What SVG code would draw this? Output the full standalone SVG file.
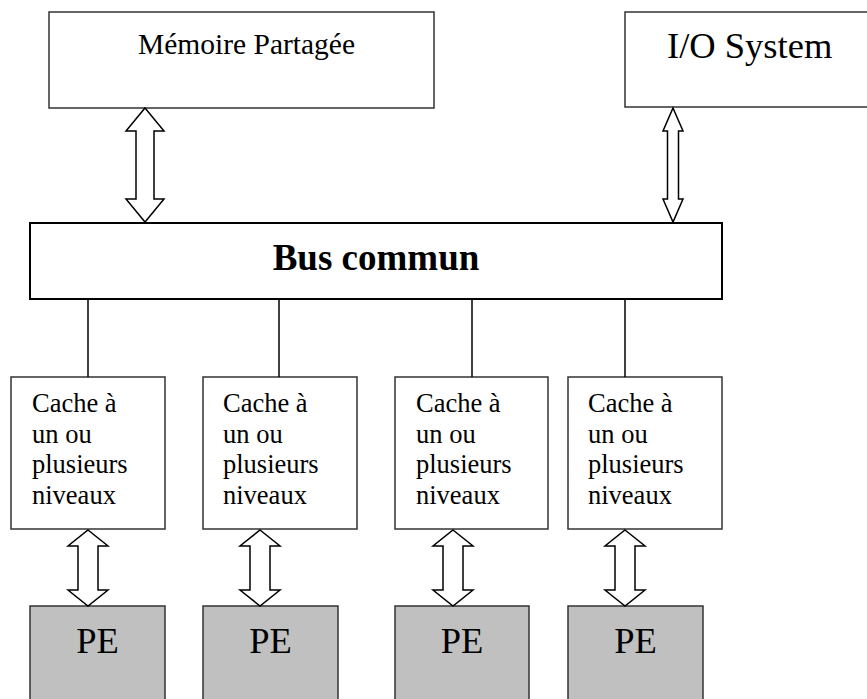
<svg xmlns="http://www.w3.org/2000/svg" width="867" height="699" viewBox="0 0 867 699">
  <style>
    .box { fill: #ffffff; stroke: #333333; stroke-width: 1.5; }
    .bus { fill: #ffffff; stroke: #000000; stroke-width: 2; }
    .pe { fill: #c0c0c0; stroke: #333333; stroke-width: 1.5; }
    .arrow { fill: #ffffff; stroke: #000000; stroke-width: 1.5; stroke-linejoin: miter; }
    .wire { stroke: #000000; stroke-width: 1.5; fill: none; }
    text { font-family: "Liberation Serif", "Times New Roman", serif; fill: #000000; }
    .cache { font-size: 26.5px; }
    .pelabel { font-size: 36.5px; text-anchor: middle; }
  </style>

  <!-- shared memory -->
  <g id="memoire">
    <rect class="box" x="49" y="12" width="385" height="96"/>
    <text x="138" y="54" font-size="29.5">Mémoire Partagée</text>
  </g>

  <!-- I/O (box runs past the right edge) -->
  <g id="io">
    <rect class="box" x="625" y="12" width="280" height="95"/>
    <text x="667" y="58" font-size="36.5">I/O System</text>
  </g>

  <!-- common bus -->
  <g id="bus">
    <rect class="bus" x="30" y="223" width="692" height="76"/>
    <text x="376" y="270" font-size="37" font-weight="bold" text-anchor="middle">Bus commun</text>
  </g>

  <!-- caches -->
  <g id="cache1">
    <rect class="box" x="11" y="377" width="154" height="152"/>
    <text class="cache" x="32"><tspan x="32" y="412">Cache à</tspan><tspan x="32" y="443">un ou</tspan><tspan x="32" y="473">plusieurs</tspan><tspan x="32" y="504">niveaux</tspan></text>
  </g>
  <g id="cache2">
    <rect class="box" x="203" y="377" width="154" height="152"/>
    <text class="cache" x="223"><tspan x="223" y="412">Cache à</tspan><tspan x="223" y="443">un ou</tspan><tspan x="223" y="473">plusieurs</tspan><tspan x="223" y="504">niveaux</tspan></text>
  </g>
  <g id="cache3">
    <rect class="box" x="395" y="377" width="153" height="152"/>
    <text class="cache" x="416"><tspan x="416" y="412">Cache à</tspan><tspan x="416" y="443">un ou</tspan><tspan x="416" y="473">plusieurs</tspan><tspan x="416" y="504">niveaux</tspan></text>
  </g>
  <g id="cache4">
    <rect class="box" x="568" y="377" width="154" height="152"/>
    <text class="cache" x="588"><tspan x="588" y="412">Cache à</tspan><tspan x="588" y="443">un ou</tspan><tspan x="588" y="473">plusieurs</tspan><tspan x="588" y="504">niveaux</tspan></text>
  </g>

  <!-- processing elements (run past the bottom edge) -->
  <g id="pe1">
    <rect class="pe" x="30" y="606" width="135" height="100"/>
    <text class="pelabel" x="97.5" y="653">PE</text>
  </g>
  <g id="pe2">
    <rect class="pe" x="203" y="606" width="135" height="100"/>
    <text class="pelabel" x="270.5" y="653">PE</text>
  </g>
  <g id="pe3">
    <rect class="pe" x="395" y="606" width="134" height="100"/>
    <text class="pelabel" x="462" y="653">PE</text>
  </g>
  <g id="pe4">
    <rect class="pe" x="568" y="606" width="135" height="100"/>
    <text class="pelabel" x="635.5" y="653">PE</text>
  </g>

  <!-- connectors -->
  <g id="connectors">
    <!-- memory <-> bus -->
    <polygon class="arrow" points="145,108 164,131 154,131 154,199 164,199 145,222 126,199 136,199 136,131 126,131"/>
    <!-- I/O <-> bus -->
    <polygon class="arrow" points="673,108 683,131 678.5,131 678.5,199 683,199 673,222 663,199 667.5,199 667.5,131 663,131"/>
    <!-- bus taps -->
    <line class="wire" x1="88" y1="299" x2="88" y2="377"/>
    <line class="wire" x1="279" y1="299" x2="279" y2="377"/>
    <line class="wire" x1="472" y1="299" x2="472" y2="377"/>
    <line class="wire" x1="625" y1="299" x2="625" y2="377"/>
    <!-- cache <-> PE -->
    <polygon class="arrow" points="88,530 108,546 98,546 98,590 108,590 88,606 68,590 78,590 78,546 68,546"/>
    <polygon class="arrow" points="260,530 280,546 270,546 270,590 280,590 260,606 240,590 250,590 250,546 240,546"/>
    <polygon class="arrow" points="453,530 473,546 463,546 463,590 473,590 453,606 433,590 443,590 443,546 433,546"/>
    <polygon class="arrow" points="625,530 645,546 635,546 635,590 645,590 625,606 605,590 615,590 615,546 605,546"/>
  </g>
</svg>
